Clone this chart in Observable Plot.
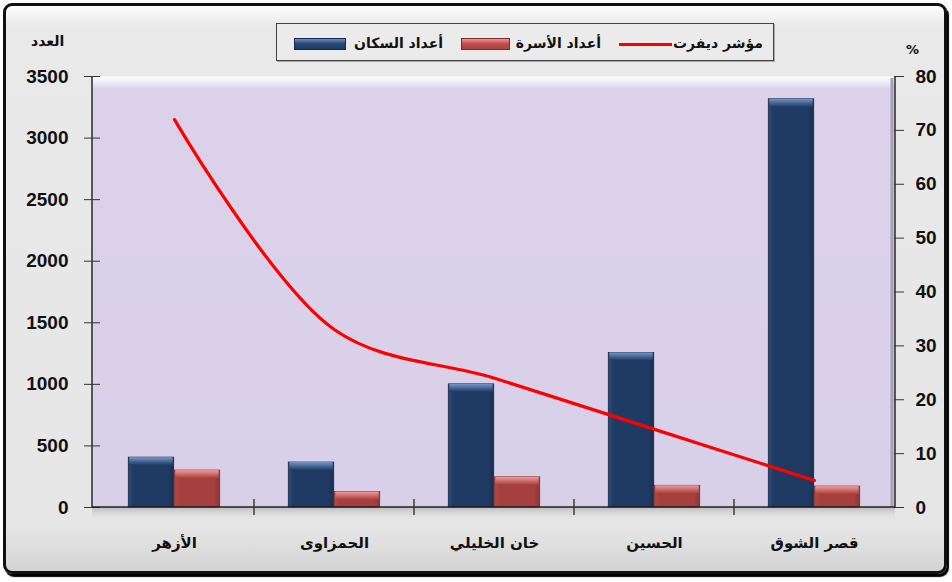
<!DOCTYPE html>
<html><head><meta charset="utf-8">
<script src="https://cdn.jsdelivr.net/npm/d3@7"></script>
<script src="https://cdn.jsdelivr.net/npm/@observablehq/plot@0.6"></script>
<style>
body{margin:0;background:#fff;}
#wrap{position:relative;width:952px;height:582px;overflow:hidden;}
#frame{position:absolute;left:3px;top:3px;width:938px;height:565px;border:3px solid #111;border-radius:9px;
  background:linear-gradient(#fdfdfd 0px,#e9e9e9 20px,#e6e6e6 520px,#d4d4d4 565px);box-shadow:2px 3px 1px #000;}
#chart{position:absolute;left:0;top:0;}
#legend{position:absolute;left:276px;top:23px;width:496px;height:36px;border:1.5px solid #444;background:#ebebeb;box-shadow:1px 1px 0 #aaa;}
.lt{position:absolute;font:bold 14px "DejaVu Sans";direction:rtl;white-space:nowrap;color:#111;text-align:right;line-height:18px;top:34px;}
.sw{position:absolute;top:38px;height:10px;}
.ax{position:absolute;font:bold 14px "DejaVu Sans";color:#111;white-space:nowrap;}
</style></head>
<body>
<svg width="0" height="0" style="position:absolute">
  <defs>
    <linearGradient id="wallGrad" x1="0" y1="0" x2="0" y2="1">
      <stop offset="0" stop-color="#ffffff"/>
      <stop offset="0.03" stop-color="#dbd2ea"/>
      <stop offset="1" stop-color="#d8cfe8"/>
    </linearGradient>
    <linearGradient id="blueGrad" x1="0" y1="0" x2="1" y2="0">
      <stop offset="0" stop-color="#2a4a78"/>
      <stop offset="0.12" stop-color="#1f3a63"/>
      <stop offset="0.88" stop-color="#1f3a63"/>
      <stop offset="1" stop-color="#18304f"/>
    </linearGradient>
    <linearGradient id="blueCap" x1="0" y1="0" x2="0" y2="1">
      <stop offset="0" stop-color="#7596c8"/>
      <stop offset="1" stop-color="#1f3a63"/>
    </linearGradient>
    <linearGradient id="redGrad" x1="0" y1="0" x2="1" y2="0">
      <stop offset="0" stop-color="#b04a47"/>
      <stop offset="0.12" stop-color="#a6403e"/>
      <stop offset="0.88" stop-color="#a6403e"/>
      <stop offset="1" stop-color="#8e3533"/>
    </linearGradient>
    <linearGradient id="redCap" x1="0" y1="0" x2="0" y2="1">
      <stop offset="0" stop-color="#f39c98"/>
      <stop offset="1" stop-color="#a6403e"/>
    </linearGradient>
    <linearGradient id="floorGrad" x1="0" y1="0" x2="0" y2="1">
      <stop offset="0" stop-color="#b8b8b8"/>
      <stop offset="1" stop-color="#e6e6e6" stop-opacity="0"/>
    </linearGradient>
  </defs>
</svg>
<div id="wrap">
  <div id="frame"></div>
  <div id="legend"></div>
  <div id="chart"></div>
</div>
<script>
// ---- data ----
const categories = ["الأزهر", "الحمزاوى", "خان الخليلي", "الحسين", "قصر الشوق"];
const population = [405, 365, 1000, 1255, 3315];   // أعداد السكان
const households = [300, 125, 245, 176, 170];      // أعداد الأسرة
const dewfert = [72, 33, 24, 14.5, 5];             // مؤشر ديفرت (%)
const leftTicks = [0, 500, 1000, 1500, 2000, 2500, 3000, 3500];
const rightTicks = [0, 10, 20, 30, 40, 50, 60, 70, 80];
const seriesNames = ["أعداد السكان", "أعداد الأسرة", "مؤشر ديفرت"];
const leftTitle = "العدد";
const rightTitle = "%";

const Y_MAX = 3500, P_MAX = 80, k = Y_MAX / P_MAX;
const rows = categories.map((c, i) => ({cat: c, pop: population[i], hh: households[i], pct: dewfert[i] * k}));

const W = 952, H = 582, mL = 92, mR = 57, mT = 76, mB = 75;
const bw = (W - mL - mR) / categories.length;
const barW = 46;
const font = "Liberation Sans, Arial, sans-serif";

const chart = Plot.plot({
  width: W, height: H, marginLeft: mL, marginRight: mR, marginTop: mT, marginBottom: mB,
  style: {background: "transparent", overflow: "visible"},
  x: {type: "band", domain: categories, padding: 0, axis: null, label: null},
  y: {domain: [0, Y_MAX], axis: null, label: null},
  marks: [
    Plot.frame({fill: "url(#wallGrad)", stroke: "none"}),
    Plot.barY(rows, {x: "cat", y: "pop", fill: "url(#blueGrad)", stroke: "#142744", strokeWidth: 0.8, insetLeft: bw / 2 - barW, insetRight: bw / 2}),
    Plot.barY(rows, {x: "cat", y1: "pop", y2: "pop", insetTop: 0, insetBottom: -8, fill: "url(#blueCap)", insetLeft: bw / 2 - barW + 1, insetRight: bw / 2 + 1}),
    Plot.barY(rows, {x: "cat", y: "hh", fill: "url(#redGrad)", stroke: "#7a2c2a", strokeWidth: 0.8, insetLeft: bw / 2, insetRight: bw / 2 - barW}),
    Plot.barY(rows, {x: "cat", y1: "hh", y2: "hh", insetTop: 0, insetBottom: -8, fill: "url(#redCap)", insetLeft: bw / 2 + 1, insetRight: bw / 2 - barW + 1}),
    Plot.line(rows, {x: "cat", y: "pct", stroke: "#ff0000", strokeWidth: 3.2, curve: "catmull-rom", strokeLinecap: "round"}),
    Plot.axisY({anchor: "left", ticks: leftTicks, tickFormat: d => String(d), tickSize: 16, dx: 8, tickPadding: 16, fontSize: 19, fontWeight: "bold", fontFamily: font, stroke: "#333", fill: "#111", label: null}),
    Plot.axisY({anchor: "right", ticks: rightTicks.map(v => v * k), tickFormat: v => String(Math.round(v / k)), tickSize: 10, dx: -2, tickPadding: 12, fontSize: 19, fontWeight: "bold", fontFamily: font, stroke: "#333", fill: "#111", label: null}),
    Plot.axisX({tickSize: 0, tickPadding: 30, fontSize: 15, fontWeight: "bold", fontFamily: "DejaVu Sans", fill: "#111", label: null})
  ]
});
document.getElementById("chart").appendChild(chart);

// decoration using the chart's own scales
const xs = chart.scale("x"), ys = chart.scale("y");
const svg = d3.select(chart);
const x0 = xs.range[0], x1 = xs.range[1];
const yb = ys.apply(0), yt = ys.apply(Y_MAX);
svg.insert("rect", "g[aria-label='bar']")
  .attr("x", x0).attr("y", yb).attr("width", x1 - x0).attr("height", 14).attr("fill", "url(#floorGrad)");
svg.append("line").attr("x1", x0).attr("x2", x0).attr("y1", yt).attr("y2", yb).attr("stroke", "#333").attr("stroke-width", 1.6);
svg.append("line").attr("x1", x1).attr("x2", x1).attr("y1", yt).attr("y2", yb).attr("stroke", "#333").attr("stroke-width", 1.6);
svg.append("line").attr("x1", x1 - 3).attr("x2", x1 - 3).attr("y1", yt + 2).attr("y2", yb).attr("stroke", "#a79fb8").attr("stroke-width", 3);
svg.append("line").attr("x1", x0).attr("x2", x1).attr("y1", yb).attr("y2", yb).attr("stroke", "#222").attr("stroke-width", 1.6);
categories.slice(1).forEach(c => {
  const bx = xs.apply(c);
  svg.append("line").attr("x1", bx).attr("x2", bx).attr("y1", yb - 8).attr("y2", yb + 8).attr("stroke", "#333").attr("stroke-width", 1.4);
});
// bring line to the top
svg.select("g[aria-label='line']").raise();

// axis titles
const wrap = document.getElementById("wrap");
const t1 = document.createElement("div"); t1.className = "ax"; t1.textContent = leftTitle;
t1.style.left = "31px"; t1.style.top = "33px"; wrap.appendChild(t1);
const t2 = document.createElement("div"); t2.className = "ax"; t2.textContent = rightTitle;
t2.style.left = "906px"; t2.style.top = "42px"; t2.style.fontSize = "13px"; wrap.appendChild(t2);

// legend
const leg = [
  {name: seriesNames[0], right: 443, sw: [294, 344], type: "blue"},
  {name: seriesNames[1], right: 601, sw: [461, 508], type: "red"},
  {name: seriesNames[2], right: 763, sw: [619, 672], type: "line"}
];
leg.forEach(l => {
  const t = document.createElement("div"); t.className = "lt"; t.textContent = l.name;
  t.style.right = (W - l.right) + "px"; wrap.appendChild(t);
  const s = document.createElement("div"); s.className = "sw";
  s.style.left = l.sw[0] + "px"; s.style.width = (l.sw[1] - l.sw[0]) + "px";
  if (l.type === "blue") { s.style.background = "linear-gradient(#6b8dc0,#2b4a78 45%,#1f3a63)"; s.style.border = "1px solid #142744"; }
  else if (l.type === "red") { s.style.background = "linear-gradient(#f09490,#c0504d 45%,#a6403e)"; s.style.border = "1px solid #7a2c2a"; }
  else { s.style.top = "43px"; s.style.height = "3px"; s.style.background = "#ff0000"; }
  wrap.appendChild(s);
});
</script>
</body></html>
